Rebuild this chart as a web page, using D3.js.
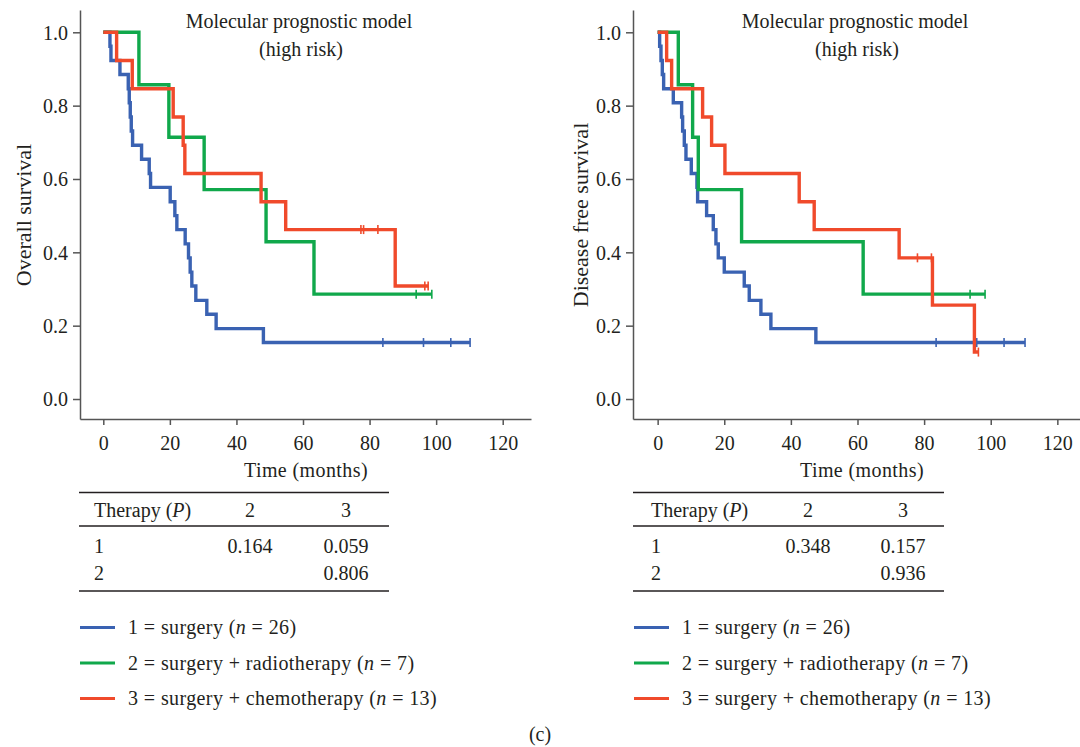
<!DOCTYPE html>
<html>
<head>
<meta charset="utf-8">
<script src="https://cdn.jsdelivr.net/npm/d3@7"></script>
<style>
  body { margin: 0; background: #fff; }
  svg text { font-family: "Liberation Serif", "DejaVu Serif", serif; fill: #231f20; }
</style>
</head>
<body>
<div class="canvas"></div>
<script>
// tick labels
const xTicks = [0, 20, 40, 60, 80, 100, 120];
const yTicks = [0, 0.2, 0.4, 0.6, 0.8, 1.0];

// overall survival, event times (months) and survival after each event
const os1Times = [2, 2.3, 5, 7.5, 7.8, 8.1, 8.4, 8.8, 11.5, 13.8, 14.2, 20.1, 21.5, 22.1, 24.6, 25.6, 26.1, 26.6, 27.8, 31.1, 33.9, 48.1];
const os1Surv = [0.962, 0.923, 0.885, 0.846, 0.808, 0.769, 0.731, 0.692, 0.654, 0.615, 0.577, 0.538, 0.5, 0.462, 0.423, 0.385, 0.346, 0.308, 0.269, 0.231, 0.192, 0.154];
const os1Censor = [84, 96.2, 104.4, 110.2];
const os2Times = [10.7, 19.7, 30.3, 48.9, 63.3];
const os2Surv = [0.857, 0.714, 0.571, 0.429, 0.286];
const os2Censor = [94, 98.7];
const os3Times = [4, 8.7, 21, 24, 24.5, 47.4, 54.8, 87.7];
const os3Surv = [0.923, 0.846, 0.769, 0.692, 0.615, 0.538, 0.462, 0.308];
const os3Censor = [77.4, 78.2, 82.5, 96.6, 97.6];

// disease free survival
const dfs1Times = [0.6, 1.0, 1.4, 1.8, 4.7, 7.2, 7.5, 8.0, 8.5, 10.1, 11.8, 12.0, 14.7, 16.7, 17.5, 18.2, 20, 26, 27.5, 31, 34, 47.5];
const dfs1Surv = [0.962, 0.923, 0.885, 0.846, 0.808, 0.769, 0.731, 0.692, 0.654, 0.615, 0.577, 0.538, 0.5, 0.462, 0.423, 0.385, 0.346, 0.308, 0.269, 0.231, 0.192, 0.154];
const dfs1Censor = [83.6, 95.8, 104, 110.3];
const dfs2Times = [6.2, 10.5, 12.2, 25.2, 61.7];
const dfs2Surv = [0.857, 0.714, 0.571, 0.429, 0.286];
const dfs2Censor = [93.8, 98.3];
const dfs3Times = [2.7, 4.2, 13.5, 16.2, 20.2, 42.5, 47, 72.5, 82.5, 95.1];
const dfs3Surv = [0.923, 0.846, 0.769, 0.692, 0.615, 0.538, 0.462, 0.385, 0.256, 0.128];
const dfs3Censor = [78, 82.2, 96.3];

// pairwise log-rank P values
const therapyCols = ["2", "3"];
const osPRows = [["1", "0.164", "0.059"], ["2", "", "0.806"]];
const dfsPRows = [["1", "0.348", "0.157"], ["2", "", "0.936"]];

const groupLabels = ["1 = surgery (", "2 = surgery + radiotherapy (", "3 = surgery + chemotherapy ("];
const groupN = [26, 7, 13];
const colors = ["#3a62b2", "#10a84b", "#f04a2b"];

const w = 1080, h = 747;
const fs = 20;
const svg = d3.select(".canvas").append("svg").attr("width", w).attr("height", h);

function drawPanel(p) {
  const x = d3.scaleLinear().domain(p.xDomain).range([p.left, p.right]);
  const y = d3.scaleLinear().domain([-0.0545, 1.0608]).range([419, 10]);
  const g = svg.append("g");

  // axes
  const xAxis = g.append("g")
    .attr("transform", "translate(0,419)")
    .call(d3.axisBottom(x).tickValues(xTicks).tickSize(6).tickSizeOuter(0).tickPadding(11));
  const yAxis = g.append("g")
    .attr("transform", `translate(${p.left},0)`)
    .call(d3.axisLeft(y).tickValues(yTicks).tickFormat(d3.format(".1f")).tickSize(7).tickSizeOuter(0).tickPadding(5));
  [xAxis, yAxis].forEach(a => {
    a.selectAll("path, line").attr("stroke", "#555").attr("stroke-width", 1.5);
    a.selectAll("text").attr("font-size", fs).attr("fill", "#231f20")
      .style("font-family", '"Liberation Serif", serif');
  });
  yAxis.selectAll("text").attr("dy", "0.34em");

  // axis titles
  g.append("text").attr("x", p.xTitleX).attr("y", 477).attr("text-anchor", "middle")
    .attr("font-size", fs).attr("letter-spacing", 0.4).text("Time (months)");
  g.append("text").attr("transform", `translate(${p.yTitleX},215) rotate(-90)`)
    .attr("text-anchor", "middle").attr("font-size", 22).text(p.yTitle);

  // title
  g.append("text").attr("x", p.titleX).attr("y", 28).attr("text-anchor", "middle")
    .attr("font-size", fs).text("Molecular prognostic model");
  g.append("text").attr("x", p.titleX + 2).attr("y", 56).attr("text-anchor", "middle")
    .attr("font-size", fs).text("(high risk)");

  // curves
  const line = d3.line().x(d => x(d[0])).y(d => y(d[1])).curve(d3.curveStepAfter);
  p.series.forEach((s, i) => {
    const end = d3.max(s.censor);
    const pts = [[0, 1]].concat(s.times.map((t, k) => [t, s.surv[k]]));
    pts.push([end, s.surv[s.surv.length - 1]]);
    g.append("path").datum(pts).attr("d", line)
      .attr("fill", "none").attr("stroke", colors[i]).attr("stroke-width", 3.4)
      .attr("stroke-linejoin", "miter");
    const survAt = t => {
      const k = d3.bisectRight(s.times, t);
      return k === 0 ? 1 : s.surv[k - 1];
    };
    g.selectAll(null).data(s.censor).enter().append("line")
      .attr("x1", d => x(d)).attr("x2", d => x(d))
      .attr("y1", d => y(survAt(d)) - 4.5).attr("y2", d => y(survAt(d)) + 4.5)
      .attr("stroke", colors[i]).attr("stroke-width", 1.6);
  });

  // P value table
  const t0 = p.tableX0, t1 = p.tableX1;
  [492.5, 526, 591].forEach(ly => {
    g.append("line").attr("x1", t0).attr("x2", t1).attr("y1", ly).attr("y2", ly)
      .attr("stroke", "#231f20").attr("stroke-width", 1.3);
  });
  const hdr = g.append("text").attr("x", t0 + p.firstCol).attr("y", 517).attr("font-size", fs);
  hdr.append("tspan").text("Therapy (");
  hdr.append("tspan").attr("font-style", "italic").text("P");
  hdr.append("tspan").text(")");
  therapyCols.forEach((c, j) => {
    g.append("text").attr("x", p.colX[j]).attr("y", 517).attr("text-anchor", "middle")
      .attr("font-size", fs).text(c);
  });
  p.rows.forEach((r, i) => {
    const ry = 553 + i * 27;
    g.append("text").attr("x", t0 + p.firstCol).attr("y", ry).attr("font-size", fs).text(r[0]);
    r.slice(1).forEach((v, j) => {
      g.append("text").attr("x", p.colX[j]).attr("y", ry).attr("text-anchor", "middle")
        .attr("font-size", fs).text(v);
    });
  });

  // legend
  groupLabels.forEach((lab, i) => {
    const ly = 627.5 + i * 35.5;
    g.append("line").attr("x1", p.legX).attr("x2", p.legX + 35).attr("y1", ly).attr("y2", ly)
      .attr("stroke", colors[i]).attr("stroke-width", 3);
    const t = g.append("text").attr("x", p.legX + 48).attr("y", ly + 6.5)
      .attr("font-size", fs).attr("letter-spacing", 0.4);
    t.append("tspan").text(lab);
    t.append("tspan").attr("font-style", "italic").text("n");
    t.append("tspan").text(" = " + groupN[i] + ")");
  });
}

drawPanel({
  left: 80, right: 531, xDomain: [-7, 128.5],
  xTitleX: 306, yTitleX: 31, yTitle: "Overall survival", titleX: 299,
  tableX0: 79, tableX1: 389, firstCol: 15, colX: [250, 346], rows: osPRows, legX: 80,
  series: [
    { times: os1Times, surv: os1Surv, censor: os1Censor },
    { times: os2Times, surv: os2Surv, censor: os2Censor },
    { times: os3Times, surv: os3Surv, censor: os3Censor }
  ]
});

drawPanel({
  left: 633, right: 1080, xDomain: [-7.4, 126.8],
  xTitleX: 862, yTitleX: 588, yTitle: "Disease free survival", titleX: 855,
  tableX0: 633, tableX1: 944, firstCol: 18, colX: [808, 903], rows: dfsPRows, legX: 634,
  series: [
    { times: dfs1Times, surv: dfs1Surv, censor: dfs1Censor },
    { times: dfs2Times, surv: dfs2Surv, censor: dfs2Censor },
    { times: dfs3Times, surv: dfs3Surv, censor: dfs3Censor }
  ]
});

svg.append("text").attr("x", 540).attr("y", 741).attr("text-anchor", "middle")
  .attr("font-size", fs).text("(c)");
</script>
</body>
</html>
